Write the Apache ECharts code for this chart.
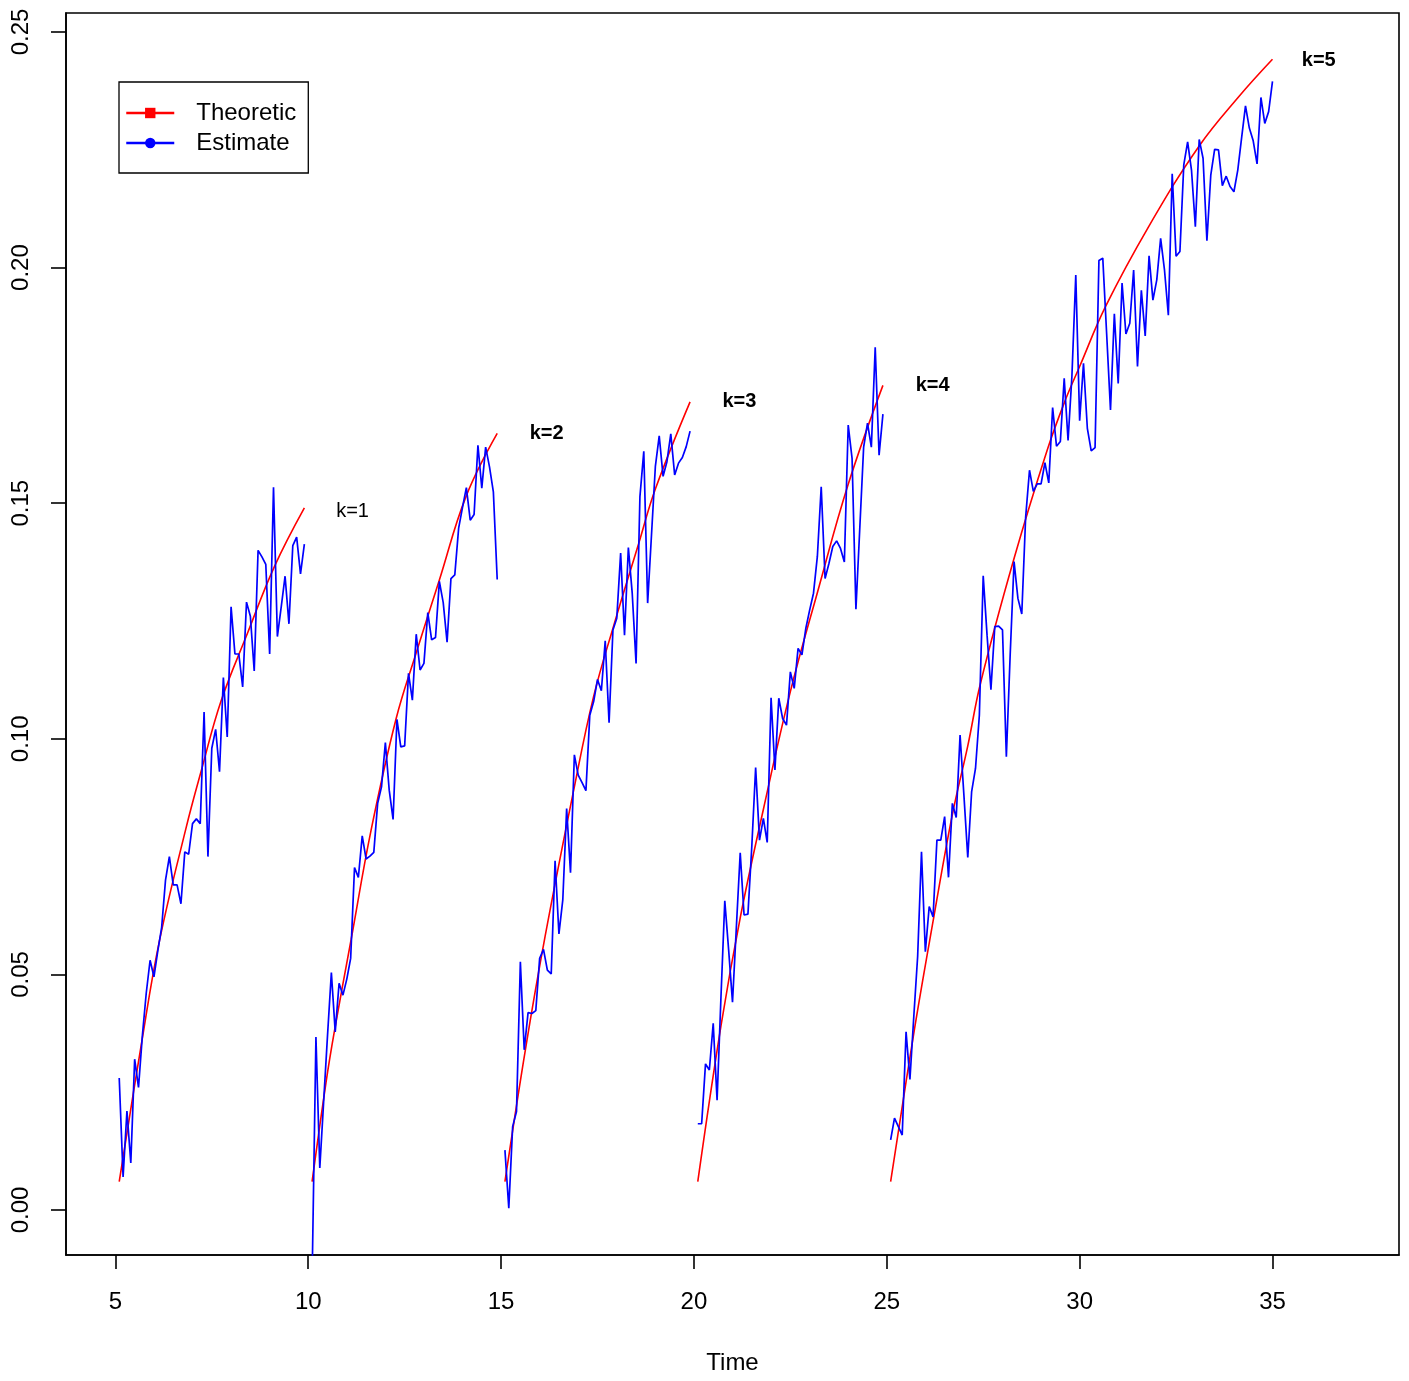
<!DOCTYPE html>
<html>
<head>
<meta charset="utf-8">
<title>Theoretic vs Estimate</title>
<script src="https://cdn.jsdelivr.net/npm/echarts@6/dist/echarts.min.js"></script>
<style>
  html, body { margin: 0; padding: 0; background: #fff; }
  #chart { width: 1409px; height: 1381px; }
</style>
</head>
<body>
<div id="chart"></div>
<script>
var FONT = '"Liberation Sans", Arial, Helvetica, sans-serif';

// estimate, one value every 0.1 time unit, segment start times
var estStart = [5.1, 10.1, 15.1, 20.1, 25.1];
var estStep = 0.1;

var est1 = [0.028, 0.007, 0.021, 0.010, 0.032, 0.026, 0.037, 0.046, 0.053, 0.0495,
            0.055, 0.060, 0.070, 0.075, 0.069, 0.069, 0.065, 0.076, 0.0755, 0.082,
            0.083, 0.082, 0.1057, 0.075, 0.098, 0.102, 0.093, 0.113, 0.1004, 0.128,
            0.118, 0.118, 0.111, 0.129, 0.126, 0.1144, 0.140, 0.1386, 0.137, 0.118,
            0.1534, 0.1217, 0.128, 0.1345, 0.1244, 0.141, 0.1428, 0.135, 0.1413];

var est2 = [-0.015, 0.0367, 0.0089, 0.023, 0.037, 0.0504, 0.0378, 0.0481, 0.0456, 0.049,
            0.0534, 0.0727, 0.0706, 0.0794, 0.0745, 0.0751, 0.0759, 0.0863, 0.0898, 0.0992,
            0.0891, 0.0829, 0.1041, 0.0983, 0.0985, 0.1139, 0.1082, 0.1222, 0.1146, 0.116,
            0.1268, 0.121, 0.1215, 0.1334, 0.1289, 0.1205, 0.134, 0.1348, 0.1447, 0.1491,
            0.1533, 0.1464, 0.1476, 0.1623, 0.1532, 0.1619, 0.1577, 0.1524, 0.1338];

var est3 = [0.0127, 0.0004, 0.0177, 0.0209, 0.0527, 0.034, 0.0419, 0.0417, 0.0423, 0.0534,
            0.0553, 0.0509, 0.0501, 0.0741, 0.0586, 0.0658, 0.0852, 0.0716, 0.0966, 0.0923,
            0.0907, 0.089, 0.105, 0.1079, 0.1126, 0.1102, 0.1208, 0.1034, 0.1231, 0.1256,
            0.1394, 0.122, 0.1406, 0.1309, 0.116, 0.1514, 0.161, 0.1288, 0.1433, 0.1578,
            0.1643, 0.1557, 0.1588, 0.1647, 0.156, 0.1585, 0.1597, 0.162, 0.1653];

var est4 = [0.0183, 0.0183, 0.031, 0.0297, 0.0396, 0.0233, 0.045, 0.0656, 0.0552, 0.0441,
            0.060, 0.0758, 0.0626, 0.0628, 0.0771, 0.0939, 0.0785, 0.0831, 0.078, 0.1087,
            0.0934, 0.1086, 0.1043, 0.1029, 0.1142, 0.1107, 0.1192, 0.1178, 0.1234, 0.1273,
            0.1309, 0.1387, 0.1535, 0.134, 0.1372, 0.1408, 0.142, 0.1404, 0.1375, 0.1666,
            0.1595, 0.1275, 0.1447, 0.1619, 0.167, 0.1619, 0.1831, 0.1602, 0.1689];

var est5 = [0.0149, 0.0195, 0.0177, 0.0159, 0.0378, 0.0277, 0.041, 0.0538, 0.076, 0.0548,
            0.0644, 0.0622, 0.0785, 0.0785, 0.0835, 0.0706, 0.0863, 0.0833, 0.1008, 0.088,
            0.0748, 0.0888, 0.0937, 0.105, 0.1346, 0.122, 0.1104, 0.1238, 0.1239, 0.1231,
            0.0962, 0.118, 0.1376, 0.1298, 0.1265, 0.147, 0.157, 0.1525, 0.1541, 0.1541,
            0.1586, 0.1543, 0.1703, 0.1621, 0.1631, 0.1765, 0.1633, 0.177, 0.1984, 0.1675,
            0.1797, 0.1659, 0.1611, 0.1618, 0.2015, 0.202, 0.186, 0.1698, 0.1902, 0.1754,
            0.1967, 0.1859, 0.1882, 0.1995, 0.179, 0.1952, 0.1855, 0.2025, 0.1931, 0.1974,
            0.2062, 0.1995, 0.1899, 0.2199, 0.2024, 0.2034, 0.2218, 0.2267, 0.2207, 0.2087,
            0.2272, 0.2232, 0.2057, 0.2196, 0.2251, 0.225, 0.2174, 0.2194, 0.2172, 0.2161,
            0.2207, 0.2276, 0.2343, 0.2296, 0.2269, 0.222, 0.2361, 0.2306, 0.2331, 0.2395];

// theoretic curves, [time, value]
var theo1 = [[5.1, 0.006], [5.67, 0.035], [6.14, 0.057], [6.83, 0.081], [7.22, 0.093],
             [7.74, 0.108], [8.43, 0.1225], [9.12, 0.1365], [9.9, 0.149]];
var theo2 = [[10.1, 0.006], [10.46, 0.027], [10.68, 0.038], [11.11, 0.0573], [11.63, 0.0806],
             [12.28, 0.1043], [12.79, 0.118], [13.4, 0.1337], [14.09, 0.1514], [14.9, 0.1648]];
var theo3 = [[15.1, 0.006], [15.63, 0.034], [16.14, 0.058], [16.88, 0.089], [17.4, 0.109],
             [17.92, 0.124], [18.57, 0.1415], [19.0, 0.153], [19.9, 0.1715]];
var theo4 = [[20.1, 0.006], [20.7, 0.039], [21.2, 0.062], [21.8, 0.085], [22.5, 0.110],
             [23.2, 0.131], [24.0, 0.154], [24.9, 0.175]];
var theo5 = [[25.1, 0.006], [25.7, 0.0375], [26.22, 0.0622], [26.69, 0.0835], [27.1, 0.0985],
             [27.43, 0.1118], [28.29, 0.138], [29.16, 0.1613], [29.63, 0.1719], [30.0, 0.179],
             [30.67, 0.1917], [31.79, 0.2087], [33.09, 0.2257], [34.13, 0.2363], [35.0, 0.2442]];

// segment labels
var kNames = ['k=1', 'k=2', 'k=3', 'k=4', 'k=5'];
var kPos = [[11.15, 0.1483], [16.18, 0.1647], [21.18, 0.1715], [26.19, 0.175], [36.2, 0.244]];

var xTicks = [5, 10, 15, 20, 25, 30, 35];
var yTicks = [0, 0.05, 0.1, 0.15, 0.2, 0.25];

var series = [];

[theo1, theo2, theo3, theo4, theo5].forEach(function (d) {
	series.push({
		name: 'Theoretic',
		type: 'line',
		data: d,
		symbol: 'rect',
		showSymbol: false,
		smooth: 0.4,
		silent: true,
		z: 2,
		lineStyle: { color: '#ff0000', width: 1.6 },
		itemStyle: { color: '#ff0000' }
	});
});

[est1, est2, est3, est4, est5].forEach(function (vals, k) {
	var d = vals.map(function (v, i) {
		return [Math.round((estStart[k] + i * estStep) * 10) / 10, v];
	});
	series.push({
		name: 'Estimate',
		type: 'line',
		data: d,
		symbol: 'circle',
		showSymbol: false,
		silent: true,
		z: 3,
		lineStyle: { color: '#0000ff', width: 1.7 },
		itemStyle: { color: '#0000ff' }
	});
});

// text labels k=1..k=5
series.push({
	type: 'scatter',
	silent: true,
	symbolSize: 0,
	z: 4,
	itemStyle: { opacity: 1 },
	data: kPos.map(function (p, i) {
		return { value: p, name: kNames[i], label: { fontWeight: i === 0 ? 'normal' : 'bold' } };
	}),
	label: {
		show: true,
		position: 'inside',
		formatter: '{b}',
		color: '#000',
		opacity: 1,
		fontSize: 20,
		fontFamily: FONT
	}
});

var chart = echarts.init(document.getElementById('chart'), null, { renderer: 'canvas' });

chart.setOption({
	animation: false,
	backgroundColor: '#fff',
	grid: {
		left: 66, top: 13, right: 10, bottom: 126,
		show: true,
		borderColor: '#000',
		borderWidth: 1.6,
		backgroundColor: 'transparent',
		containLabel: false,
		outerBoundsMode: 'none'
	},
	legend: {
		data: ['Theoretic', 'Estimate'],
		orient: 'vertical',
		left: 119, top: 82,
		padding: [19, 12, 18, 6],
		itemGap: 6,
		itemWidth: 48,
		itemHeight: 13,
		borderColor: '#000',
		borderWidth: 1.3,
		borderRadius: 0,
		backgroundColor: '#fff',
		selectedMode: false,
		lineStyle: { width: 2.5 },
		textStyle: { fontSize: 24, color: '#000', fontFamily: FONT, padding: [0, 0, 0, 17] }
	},
	xAxis: {
		type: 'value',
		min: 3.72, max: 38.28,
		name: 'Time',
		nameLocation: 'middle',
		nameGap: 96,
		nameTextStyle: { fontSize: 24, color: '#000', fontFamily: FONT },
		axisLine: { show: true, onZero: false, lineStyle: { color: '#000', width: 1.6 } },
		axisTick: { show: true, customValues: xTicks, length: 14, lineStyle: { color: '#000', width: 1.6 } },
		axisLabel: {
			customValues: xTicks,
			margin: 35,
			fontSize: 24, color: '#000', fontFamily: FONT,
			formatter: function (v) { return String(v); }
		},
		splitLine: { show: false }
	},
	yAxis: {
		type: 'value',
		min: -0.00955, max: 0.25403,
		axisLine: { show: true, onZero: false, lineStyle: { color: '#000', width: 1.6 } },
		axisTick: { show: true, customValues: yTicks, length: 15, lineStyle: { color: '#000', width: 1.6 } },
		axisLabel: {
			customValues: yTicks,
			rotate: 90,
			margin: 33,
			fontSize: 24, color: '#000', fontFamily: FONT,
			formatter: function (v) { return v.toFixed(2); }
		},
		splitLine: { show: false }
	},
	series: series
});
</script>
</body>
</html>
